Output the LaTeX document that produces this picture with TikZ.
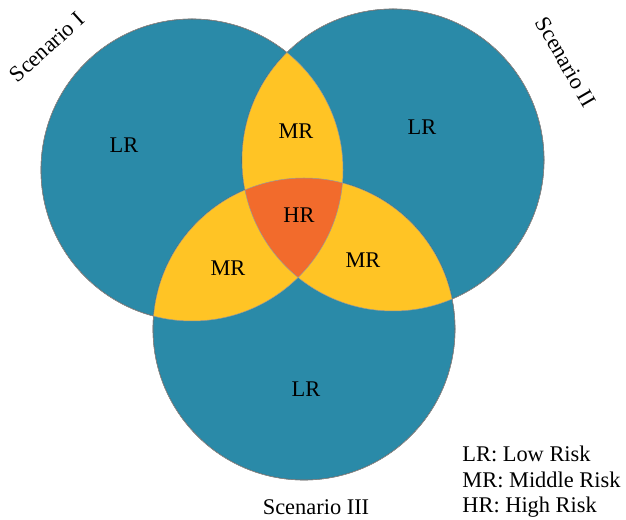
\documentclass[tikz,border=0pt]{standalone}
\usepackage{fontspec}
\setmainfont{Liberation Serif}
\definecolor{lowblue}{HTML}{2A8AA8}
\definecolor{midyellow}{HTML}{FFC425}
\definecolor{highorange}{HTML}{F26B2C}
\begin{document}
\begin{tikzpicture}[x=0.5pt,y=0.5pt,
  every node/.style={font=\fontsize{11.2}{12.5}\selectfont,inner sep=0pt},
  lowrisk/.style={fill=lowblue},
  midrisk/.style={fill=midyellow},
  highrisk/.style={fill=highorange},
  rim/.style={draw=black!75,line width=0.3pt},
  seam/.style={draw=black!40,line width=0.25pt}]
\useasboundingbox (0,0) rectangle (626,519);
\coordinate (one) at (192,349);
\coordinate (two) at (393,359);
\coordinate (three) at (304,190);

\foreach \c in {one,two,three}
{
\fill[lowrisk] (\c) circle (151);
\draw[rim] (\c) circle (151);
}
% overlaps of two scenarios
\begin{scope}
\clip (one) circle (151);
\fill[midrisk] (two) circle (151);
\fill[midrisk] (three) circle (151);
\end{scope}
\begin{scope}
\clip (two) circle (151);
\fill[midrisk] (three) circle (151);
\end{scope}
% overlap of all three
\begin{scope}
\clip (one) circle (151);
\clip (two) circle (151);
\fill[highrisk] (three) circle (151);
\end{scope}
\foreach \c in {one,two,three}
{
\draw[seam] (\c) circle (151);
}

\node (lrone) at (124,374) {LR};
\node (lrtwo) at (422,392) {LR};
\node (lrthree) at (306,130) {LR};
\node (mrtop) at (296,388) {MR};
\node (mrleft) at (228,251) {MR};
\node (mrright) at (363,259) {MR};
\node (hr) at (299,304) {HR};

\node[rotate=42] (scenone) at (47,472) {Scenario I};
\node[rotate=-60] (scentwo) at (566,457) {Scenario II};
\node (scenthree) at (316,12) {Scenario III};

\node[anchor=base west] (keylr) at (462,57) {LR: Low Risk};
\node[anchor=base west] (keymr) at (462,31.5) {MR: Middle Risk};
\node[anchor=base west] (keyhr) at (462,6) {HR: High Risk};
\end{tikzpicture}
\end{document}
